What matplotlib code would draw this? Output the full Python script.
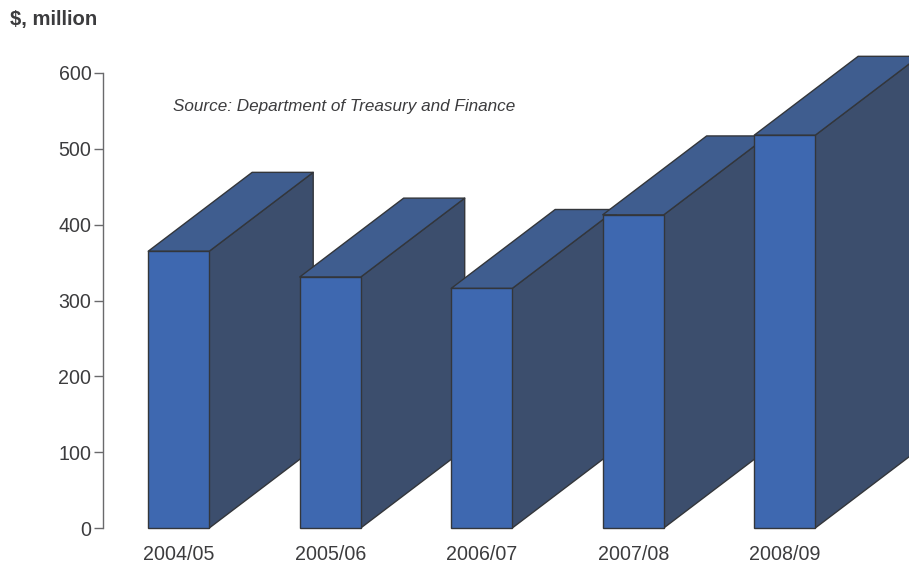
import numpy as np
import matplotlib
matplotlib.use('Agg')
import matplotlib.pyplot as plt
from matplotlib.patches import Polygon

plt.rcParams['font.family'] = ['Liberation Sans', 'DejaVu Sans']

years = ['2004/05', '2005/06', '2006/07', '2007/08', '2008/09']
spending = [365, 331, 316, 413, 518]
yticks = [0, 100, 200, 300, 400, 500, 600]

W, H = 909, 563
front_col = '#3e68b0'
top_col = '#3f5d8f'
side_col = '#3c4e6d'
edge_col = '#33363b'
text_col = '#3c3c3e'

# bar width and the slanted depth, in data units
bar_w = 0.403
depth_x = 0.686
depth_y = 104

fig = plt.figure(figsize=(W / 100, H / 100), dpi=100)
ax = fig.add_axes([103 / W, (H - 528) / H, (W - 103) / W, 455 / H])
ax.set_xlim(-0.5, (W - 103) / 151.5 - 0.5)
ax.set_ylim(0, 600)

x = np.arange(len(years))
for i in range(len(years)):
    left = x[i] - bar_w / 2
    right = x[i] + bar_w / 2
    v = spending[i]
    side = [(right, 0), (right + depth_x, depth_y), (right + depth_x, v + depth_y), (right, v)]
    top = [(left, v), (left + depth_x, v + depth_y), (right + depth_x, v + depth_y), (right, v)]
    ax.add_patch(Polygon(side, fc=side_col, ec=edge_col, lw=1.0, clip_on=False, zorder=2 + i, joinstyle='round'))
    ax.add_patch(Polygon(top, fc=top_col, ec=edge_col, lw=1.0, clip_on=False, zorder=2 + i, joinstyle='round'))
    ax.bar(x[i], v, width=bar_w, color=front_col, edgecolor=edge_col, lw=1.0, zorder=2 + i, clip_on=False)

for s in ['top', 'right', 'bottom']:
    ax.spines[s].set_visible(False)
ax.spines['left'].set_color('#6a6a6c')
ax.spines['left'].set_linewidth(1.0)

ax.set_yticks(yticks)
ax.set_xticks(x)
ax.set_xticklabels(years)
ax.tick_params(axis='y', length=6.5, width=1.0, color='#6a6a6c', labelcolor=text_col, labelsize=14.1, pad=1.8)
ax.tick_params(axis='x', length=0, labelcolor=text_col, labelsize=14.1, pad=12)
ax.patch.set_visible(False)

fig.text(10 / W, 1 - 19 / H, '$, million', fontsize=14.6, fontweight='bold', color=text_col, va='center', ha='left')
fig.text(173 / W, 1 - 106 / H, 'Source: Department of Treasury and Finance', fontsize=12.35, style='italic',
         color=text_col, va='center', ha='left')

fig.savefig('out.png', dpi=100)
